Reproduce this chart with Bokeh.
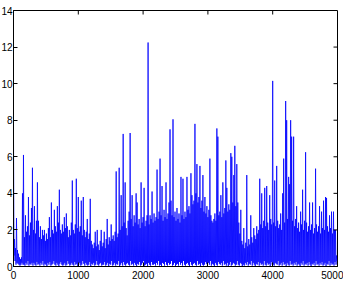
import math
from bokeh.plotting import figure
from bokeh.models import Range1d, FixedTicker
from bokeh.embed import file_html
from bokeh.resources import INLINE

# Highest value of the trace inside each of 325 equal slices of 0..5000
peak_vals = [
    7.0, 1.5, 1.0, 2.65, 0.9, 0.7, 0.5, 0.4, 0.5, 4.0,
    6.1, 1.6, 2.8, 1.9, 2.2, 3.8, 1.7, 2.4, 3.2, 5.4,
    2.0, 3.3, 1.8, 2.5, 4.6, 2.5, 1.6, 2.2, 1.5, 2.0,
    1.7, 2.0, 1.4, 1.8, 1.5, 2.1, 2.7, 1.6, 3.5, 2.0,
    1.8, 3.1, 2.2, 1.9, 3.3, 2.4, 4.2, 2.0, 1.8, 2.3,
    1.9, 2.7, 2.1, 2.9, 2.2, 1.6, 2.0, 1.7, 2.4, 4.7,
    2.0, 1.8, 2.3, 4.8, 2.1, 3.8, 1.9, 2.2, 3.6, 1.7,
    3.8, 2.0, 1.6, 1.9, 2.6, 1.5, 1.8, 3.7, 1.4, 1.2,
    1.0, 1.3, 1.9, 1.1, 2.0, 1.2, 0.9, 1.4, 2.0, 1.1,
    1.3, 1.9, 1.0, 1.5, 2.6, 1.2, 1.6, 1.4, 2.3, 1.5,
    1.7, 1.4, 1.9, 5.2, 1.6, 1.8, 5.4, 2.0, 3.9, 2.2,
    7.25, 2.4, 4.6, 2.1, 1.7, 2.5, 3.0, 7.3, 2.6, 3.9,
    2.2, 2.8, 2.4, 4.0, 3.5, 2.3, 2.6, 2.1, 4.6, 2.4,
    2.7, 4.3, 2.2, 2.5, 2.8, 12.25, 2.3, 2.8, 2.6, 4.1,
    2.4, 2.9, 2.5, 2.7, 5.3, 2.6, 3.0, 5.9, 2.8, 4.4,
    2.5, 3.1, 2.7, 4.6, 2.6, 2.9, 3.5, 7.5, 3.6, 2.8,
    8.05, 2.7, 3.0, 2.5, 3.2, 2.6, 2.9, 2.4, 4.9, 2.8,
    4.8, 2.6, 3.0, 2.7, 4.9, 3.1, 3.3, 2.9, 5.1, 3.9,
    3.4, 3.6, 7.8, 4.0, 5.6, 3.5, 3.8, 5.5, 3.2, 3.6,
    5.0, 3.0, 3.8, 2.9, 3.3, 2.7, 3.1, 5.9, 2.8, 2.5,
    2.4, 2.6, 2.9, 2.5, 7.55, 7.1, 2.8, 3.0, 3.9, 2.7,
    4.6, 2.9, 3.2, 5.8, 4.3, 3.0, 3.4, 3.1, 6.2, 6.0,
    3.5, 5.0, 6.6, 3.3, 5.6, 3.5, 2.4, 1.8, 3.1, 1.4,
    1.2, 2.1, 1.0, 1.3, 5.0, 1.1, 1.5, 1.2, 2.8, 1.6,
    1.3, 2.1, 1.7, 1.5, 2.2, 1.8, 2.0, 4.8, 2.3, 4.0,
    2.1, 2.5, 4.3, 2.2, 4.4, 2.4, 2.0, 3.9, 2.6, 2.3,
    10.15, 2.4, 4.7, 2.2, 5.5, 2.5, 2.1, 2.3, 2.9, 2.0,
    4.0, 5.9, 2.4, 9.05, 8.0, 2.6, 4.9, 4.5, 8.0, 7.1,
    2.5, 7.1, 2.2, 2.6, 3.3, 2.1, 2.4, 1.9, 3.0, 2.3,
    4.2, 2.0, 2.5, 6.25, 2.4, 1.9, 2.2, 3.5, 2.0, 2.3,
    3.5, 1.8, 2.1, 5.35, 2.3, 1.9, 2.2, 3.3, 1.8, 3.0,
    2.1, 3.6, 2.0, 3.8, 3.75, 2.2, 1.9, 2.8, 2.1, 3.0,
    1.8, 3.0, 2.0, 2.0, 0.6,
]

# Lowest value of the trace inside each slice
floor_vals = [
    0.6, 0.3, 0.1, 0.2, 0.15, 0.1, 0.05, 0.1, 0.2, 0.1,
    0.1, 0.05, 0.2, 0.1, 0.3, 0.05, 0.15, 0.1, 0.2, 0.05,
    0.2, 0.1, 0.05, 0.25, 0.1, 0.15, 0.05, 0.2, 0.1, 0.3,
    0.05, 0.15, 0.1, 0.02, 0.2, 0.1, 0.25, 0.05, 0.1, 0.15,
    0.3, 0.1, 0.05, 0.2, 0.1, 0.02, 0.15, 0.25, 0.1, 0.05,
    0.1, 0.2, 0.05, 0.1, 0.3, 0.15, 0.05, 0.1, 0.2, 0.1,
    0.05, 0.25, 0.1, 0.15, 0.02, 0.1, 0.2, 0.05, 0.1, 0.3,
    0.15, 0.05, 0.2, 0.1, 0.05, 0.1, 0.25, 0.02, 0.15, 0.1,
    0.2, 0.05, 0.1, 0.3, 0.1, 0.05, 0.15, 0.2, 0.05, 0.1,
    0.1, 0.25, 0.05, 0.1, 0.2, 0.02, 0.15, 0.1, 0.3, 0.05,
    0.1, 0.2, 0.05, 0.15, 0.1, 0.3, 0.02, 0.1, 0.2, 0.05,
    0.25, 0.1, 0.05, 0.15, 0.2, 0.1, 0.05, 0.3, 0.1, 0.15,
    0.05, 0.2, 0.1, 0.02, 0.15, 0.1, 0.25, 0.05, 0.1, 0.2,
    0.3, 0.05, 0.1, 0.15, 0.02, 0.2, 0.1, 0.05, 0.25, 0.1,
    0.1, 0.15, 0.05, 0.2, 0.1, 0.3, 0.05, 0.1, 0.02, 0.2,
    0.15, 0.05, 0.25, 0.1, 0.05, 0.2, 0.1, 0.15, 0.3, 0.05,
    0.1, 0.2, 0.02, 0.1, 0.15, 0.05, 0.25, 0.1, 0.2, 0.05,
    0.3, 0.1, 0.05, 0.15, 0.2, 0.1, 0.02, 0.25, 0.1, 0.05,
    0.15, 0.2, 0.1, 0.05, 0.3, 0.1, 0.15, 0.02, 0.2, 0.1,
    0.05, 0.1, 0.25, 0.15, 0.05, 0.2, 0.1, 0.3, 0.05, 0.15,
    0.1, 0.02, 0.2, 0.1, 0.05, 0.25, 0.15, 0.1, 0.2, 0.05,
    0.3, 0.1, 0.15, 0.05, 0.2, 0.02, 0.1, 0.25, 0.05, 0.1,
    0.2, 0.15, 0.05, 0.1, 0.3, 0.1, 0.05, 0.2, 0.15, 0.02,
    0.1, 0.05, 0.2, 0.1, 0.25, 0.05, 0.15, 0.1, 0.3, 0.05,
    0.2, 0.1, 0.02, 0.15, 0.1, 0.25, 0.05, 0.2, 0.1, 0.15,
    0.05, 0.3, 0.1, 0.05, 0.2, 0.1, 0.15, 0.02, 0.25, 0.1,
    0.1, 0.05, 0.2, 0.15, 0.1, 0.3, 0.05, 0.1, 0.2, 0.05,
    0.25, 0.1, 0.15, 0.02, 0.2, 0.1, 0.05, 0.3, 0.1, 0.15,
    0.05, 0.2, 0.1, 0.25, 0.05, 0.15, 0.1, 0.02, 0.2, 0.1,
    0.3, 0.05, 0.15, 0.1, 0.2, 0.05, 0.25, 0.1, 0.02, 0.15,
    0.1, 0.2, 0.05, 0.3, 0.1, 0.15, 0.05, 0.2, 0.1, 0.25,
    0.05, 0.1, 0.2, 0.02, 0.15, 0.1, 0.3, 0.05, 0.2, 0.1,
    0.15, 0.05, 0.25, 0.1, 0.3,
]

x_ticks = [0, 1000, 2000, 3000, 4000, 5000]
y_ticks = [0, 2, 4, 6, 8, 10, 12, 14]

x_max = 5000
y_max = 14
n = len(peak_vals)
step = x_max / n
xs, ys = [], []
for i, (hi, lo) in enumerate(zip(peak_vals, floor_vals)):
    xs.append(i * step)
    ys.append(hi)
    xs.append(i * step + step / 2)
    ys.append(lo)

p = figure(width=345, height=289, x_range=Range1d(0, x_max), y_range=Range1d(0, y_max),
           output_backend="svg", toolbar_location=None,
           min_border_left=12, min_border_right=6, min_border_top=10, min_border_bottom=23,
           margin=(0, 0, 0, -2))
p.background_fill_color = "white"
p.border_fill_color = "white"
p.outline_line_color = "black"
p.outline_line_width = 1
p.xgrid.visible = False
p.ygrid.visible = False

p.line(xs, ys, line_color="#0000ff", line_width=0.8)

for ax, ticks, standoff in ((p.xaxis[0], x_ticks, 4), (p.yaxis[0], y_ticks, 1)):
    ax.ticker = FixedTicker(ticks=ticks)
    ax.major_tick_in = 4
    ax.major_tick_out = 0
    ax.minor_tick_in = 0
    ax.minor_tick_out = 0
    ax.axis_line_color = "black"
    ax.major_tick_line_color = "black"
    ax.major_label_text_font = "Liberation Sans"
    ax.major_label_text_font_size = "10px"
    ax.major_label_text_color = "black"
    ax.major_label_standoff = standoff

# inward tick marks on the top and right edges of the frame
p.ray(x=x_ticks[1:-1], y=[y_max] * (len(x_ticks) - 2), length=4, length_units="screen",
      angle=-math.pi / 2, line_color="black", line_width=1)
p.ray(x=[x_max] * (len(y_ticks) - 2), y=y_ticks[1:-1], length=4, length_units="screen",
      angle=math.pi, line_color="black", line_width=1)

open("out.html", "w").write(file_html(p, INLINE))
